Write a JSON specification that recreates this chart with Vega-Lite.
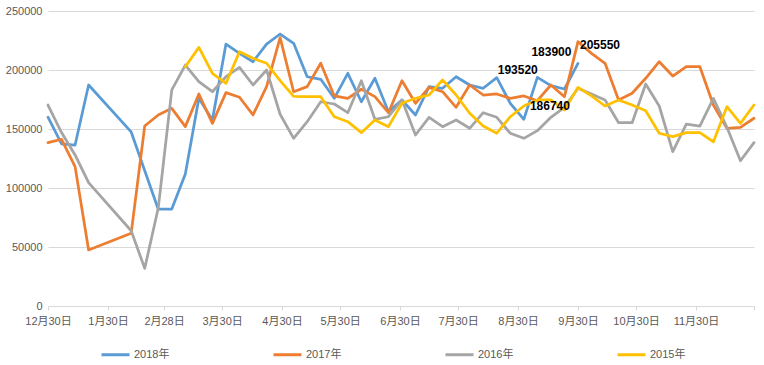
{
  "$schema": "https://vega.github.io/schema/vega-lite/v6.json",
  "width": 706,
  "height": 295,
  "autosize": {"type": "none"},
  "padding": {"left": 48, "top": 11, "right": 10, "bottom": 59},
  "background": "white",
  "config": {"view": {"stroke": null}, "font": "Liberation Sans, Noto Sans CJK SC"},
  "data": {"values": [
    {"d": "2017/12/30", "y": 160000, "s": "2018年"},
    {"d": "2018/01/06", "y": 137300, "s": "2018年"},
    {"d": "2018/01/13", "y": 136400, "s": "2018年"},
    {"d": "2018/01/20", "y": 187300, "s": "2018年"},
    {"d": "2018/02/11", "y": 147500, "s": "2018年"},
    {"d": "2018/02/25", "y": 82000, "s": "2018年"},
    {"d": "2018/03/04", "y": 82200, "s": "2018年"},
    {"d": "2018/03/11", "y": 111900, "s": "2018年"},
    {"d": "2018/03/18", "y": 176000, "s": "2018年"},
    {"d": "2018/03/25", "y": 157600, "s": "2018年"},
    {"d": "2018/04/01", "y": 222000, "s": "2018年"},
    {"d": "2018/04/08", "y": 214100, "s": "2018年"},
    {"d": "2018/04/15", "y": 207000, "s": "2018年"},
    {"d": "2018/04/22", "y": 222000, "s": "2018年"},
    {"d": "2018/04/29", "y": 230500, "s": "2018年"},
    {"d": "2018/05/06", "y": 222600, "s": "2018年"},
    {"d": "2018/05/13", "y": 194300, "s": "2018年"},
    {"d": "2018/05/20", "y": 192100, "s": "2018年"},
    {"d": "2018/05/27", "y": 176000, "s": "2018年"},
    {"d": "2018/06/03", "y": 197200, "s": "2018年"},
    {"d": "2018/06/10", "y": 173100, "s": "2018年"},
    {"d": "2018/06/17", "y": 193000, "s": "2018年"},
    {"d": "2018/06/24", "y": 164700, "s": "2018年"},
    {"d": "2018/07/01", "y": 174600, "s": "2018年"},
    {"d": "2018/07/08", "y": 161900, "s": "2018年"},
    {"d": "2018/07/15", "y": 185900, "s": "2018年"},
    {"d": "2018/07/22", "y": 184500, "s": "2018年"},
    {"d": "2018/07/29", "y": 194300, "s": "2018年"},
    {"d": "2018/08/05", "y": 187300, "s": "2018年"},
    {"d": "2018/08/12", "y": 184500, "s": "2018年"},
    {"d": "2018/08/19", "y": 193520, "s": "2018年", "label": "193520"},
    {"d": "2018/08/26", "y": 171800, "s": "2018年"},
    {"d": "2018/09/02", "y": 158200, "s": "2018年"},
    {"d": "2018/09/09", "y": 193800, "s": "2018年"},
    {"d": "2018/09/16", "y": 186740, "s": "2018年", "label": "186740"},
    {"d": "2018/09/23", "y": 183900, "s": "2018年", "label": "183900"},
    {"d": "2018/09/30", "y": 205550, "s": "2018年", "label": "205550"},

    {"d": "2017/12/30", "y": 138400, "s": "2017年"},
    {"d": "2018/01/06", "y": 141300, "s": "2017年"},
    {"d": "2018/01/13", "y": 118100, "s": "2017年"},
    {"d": "2018/01/20", "y": 47500, "s": "2017年"},
    {"d": "2018/02/11", "y": 61600, "s": "2017年"},
    {"d": "2018/02/18", "y": 152500, "s": "2017年"},
    {"d": "2018/02/25", "y": 161900, "s": "2017年"},
    {"d": "2018/03/04", "y": 167500, "s": "2017年"},
    {"d": "2018/03/11", "y": 152000, "s": "2017年"},
    {"d": "2018/03/18", "y": 179700, "s": "2017年"},
    {"d": "2018/03/25", "y": 154800, "s": "2017年"},
    {"d": "2018/04/01", "y": 180800, "s": "2017年"},
    {"d": "2018/04/08", "y": 176900, "s": "2017年"},
    {"d": "2018/04/15", "y": 161900, "s": "2017年"},
    {"d": "2018/04/22", "y": 185900, "s": "2017年"},
    {"d": "2018/04/29", "y": 227500, "s": "2017年"},
    {"d": "2018/05/06", "y": 181600, "s": "2017年"},
    {"d": "2018/05/13", "y": 185900, "s": "2017年"},
    {"d": "2018/05/20", "y": 205700, "s": "2017年"},
    {"d": "2018/05/27", "y": 178000, "s": "2017年"},
    {"d": "2018/06/03", "y": 176000, "s": "2017年"},
    {"d": "2018/06/10", "y": 183700, "s": "2017年"},
    {"d": "2018/06/17", "y": 177400, "s": "2017年"},
    {"d": "2018/06/24", "y": 163800, "s": "2017年"},
    {"d": "2018/07/01", "y": 190900, "s": "2017年"},
    {"d": "2018/07/08", "y": 171800, "s": "2017年"},
    {"d": "2018/07/15", "y": 185300, "s": "2017年"},
    {"d": "2018/07/22", "y": 181600, "s": "2017年"},
    {"d": "2018/07/29", "y": 168400, "s": "2017年"},
    {"d": "2018/08/05", "y": 187300, "s": "2017年"},
    {"d": "2018/08/12", "y": 178800, "s": "2017年"},
    {"d": "2018/08/19", "y": 179700, "s": "2017年"},
    {"d": "2018/08/26", "y": 176000, "s": "2017年"},
    {"d": "2018/09/02", "y": 178000, "s": "2017年"},
    {"d": "2018/09/09", "y": 174000, "s": "2017年"},
    {"d": "2018/09/16", "y": 187300, "s": "2017年"},
    {"d": "2018/09/23", "y": 177400, "s": "2017年"},
    {"d": "2018/09/30", "y": 224000, "s": "2017年"},
    {"d": "2018/10/07", "y": 214100, "s": "2017年"},
    {"d": "2018/10/14", "y": 205700, "s": "2017年"},
    {"d": "2018/10/21", "y": 174600, "s": "2017年"},
    {"d": "2018/10/28", "y": 180300, "s": "2017年"},
    {"d": "2018/11/04", "y": 193000, "s": "2017年"},
    {"d": "2018/11/11", "y": 207000, "s": "2017年"},
    {"d": "2018/11/18", "y": 194900, "s": "2017年"},
    {"d": "2018/11/25", "y": 202800, "s": "2017年"},
    {"d": "2018/12/02", "y": 202800, "s": "2017年"},
    {"d": "2018/12/09", "y": 170300, "s": "2017年"},
    {"d": "2018/12/16", "y": 150600, "s": "2017年"},
    {"d": "2018/12/23", "y": 151400, "s": "2017年"},
    {"d": "2018/12/30", "y": 159100, "s": "2017年"},

    {"d": "2017/12/30", "y": 170300, "s": "2016年"},
    {"d": "2018/01/06", "y": 147000, "s": "2016年"},
    {"d": "2018/01/13", "y": 128000, "s": "2016年"},
    {"d": "2018/01/20", "y": 104500, "s": "2016年"},
    {"d": "2018/02/11", "y": 63800, "s": "2016年"},
    {"d": "2018/02/18", "y": 31900, "s": "2016年"},
    {"d": "2018/02/25", "y": 83000, "s": "2016年"},
    {"d": "2018/03/04", "y": 183100, "s": "2016年"},
    {"d": "2018/03/11", "y": 204200, "s": "2016年"},
    {"d": "2018/03/18", "y": 190100, "s": "2016年"},
    {"d": "2018/03/25", "y": 181600, "s": "2016年"},
    {"d": "2018/04/01", "y": 194300, "s": "2016年"},
    {"d": "2018/04/08", "y": 202200, "s": "2016年"},
    {"d": "2018/04/15", "y": 187300, "s": "2016年"},
    {"d": "2018/04/22", "y": 200000, "s": "2016年"},
    {"d": "2018/04/29", "y": 162500, "s": "2016年"},
    {"d": "2018/05/06", "y": 142100, "s": "2016年"},
    {"d": "2018/05/13", "y": 156200, "s": "2016年"},
    {"d": "2018/05/20", "y": 173100, "s": "2016年"},
    {"d": "2018/05/27", "y": 171200, "s": "2016年"},
    {"d": "2018/06/03", "y": 163800, "s": "2016年"},
    {"d": "2018/06/10", "y": 190900, "s": "2016年"},
    {"d": "2018/06/17", "y": 158200, "s": "2016年"},
    {"d": "2018/06/24", "y": 160400, "s": "2016年"},
    {"d": "2018/07/01", "y": 174600, "s": "2016年"},
    {"d": "2018/07/08", "y": 144900, "s": "2016年"},
    {"d": "2018/07/15", "y": 159900, "s": "2016年"},
    {"d": "2018/07/22", "y": 152000, "s": "2016年"},
    {"d": "2018/07/29", "y": 157600, "s": "2016年"},
    {"d": "2018/08/05", "y": 150600, "s": "2016年"},
    {"d": "2018/08/12", "y": 163800, "s": "2016年"},
    {"d": "2018/08/19", "y": 159900, "s": "2016年"},
    {"d": "2018/08/26", "y": 146400, "s": "2016年"},
    {"d": "2018/09/02", "y": 142100, "s": "2016年"},
    {"d": "2018/09/09", "y": 148600, "s": "2016年"},
    {"d": "2018/09/16", "y": 159900, "s": "2016年"},
    {"d": "2018/09/23", "y": 168400, "s": "2016年"},
    {"d": "2018/09/30", "y": 184500, "s": "2016年"},
    {"d": "2018/10/07", "y": 179700, "s": "2016年"},
    {"d": "2018/10/14", "y": 174600, "s": "2016年"},
    {"d": "2018/10/21", "y": 155300, "s": "2016年"},
    {"d": "2018/10/28", "y": 155300, "s": "2016年"},
    {"d": "2018/11/04", "y": 188100, "s": "2016年"},
    {"d": "2018/11/11", "y": 169500, "s": "2016年"},
    {"d": "2018/11/18", "y": 130800, "s": "2016年"},
    {"d": "2018/11/25", "y": 154200, "s": "2016年"},
    {"d": "2018/12/02", "y": 152500, "s": "2016年"},
    {"d": "2018/12/09", "y": 176000, "s": "2016年"},
    {"d": "2018/12/16", "y": 151400, "s": "2016年"},
    {"d": "2018/12/23", "y": 123100, "s": "2016年"},
    {"d": "2018/12/30", "y": 138400, "s": "2016年"},

    {"d": "2018/03/11", "y": 202800, "s": "2015年"},
    {"d": "2018/03/18", "y": 219200, "s": "2015年"},
    {"d": "2018/03/25", "y": 197200, "s": "2015年"},
    {"d": "2018/04/01", "y": 188700, "s": "2015年"},
    {"d": "2018/04/08", "y": 215500, "s": "2015年"},
    {"d": "2018/04/15", "y": 209900, "s": "2015年"},
    {"d": "2018/04/22", "y": 205700, "s": "2015年"},
    {"d": "2018/04/29", "y": 191000, "s": "2015年"},
    {"d": "2018/05/06", "y": 177700, "s": "2015年"},
    {"d": "2018/05/13", "y": 177400, "s": "2015年"},
    {"d": "2018/05/20", "y": 177400, "s": "2015年"},
    {"d": "2018/05/27", "y": 160400, "s": "2015年"},
    {"d": "2018/06/03", "y": 156200, "s": "2015年"},
    {"d": "2018/06/10", "y": 146900, "s": "2015年"},
    {"d": "2018/06/17", "y": 157600, "s": "2015年"},
    {"d": "2018/06/24", "y": 152000, "s": "2015年"},
    {"d": "2018/07/01", "y": 171800, "s": "2015年"},
    {"d": "2018/07/08", "y": 176000, "s": "2015年"},
    {"d": "2018/07/15", "y": 178800, "s": "2015年"},
    {"d": "2018/07/22", "y": 191500, "s": "2015年"},
    {"d": "2018/07/29", "y": 178800, "s": "2015年"},
    {"d": "2018/08/05", "y": 163300, "s": "2015年"},
    {"d": "2018/08/12", "y": 152500, "s": "2015年"},
    {"d": "2018/08/19", "y": 146400, "s": "2015年"},
    {"d": "2018/08/26", "y": 160400, "s": "2015年"},
    {"d": "2018/09/02", "y": 169500, "s": "2015年"},
    {"d": "2018/09/09", "y": 174600, "s": "2015年"},
    {"d": "2018/09/16", "y": 174600, "s": "2015年"},
    {"d": "2018/09/23", "y": 166100, "s": "2015年"},
    {"d": "2018/09/30", "y": 185300, "s": "2015年"},
    {"d": "2018/10/07", "y": 178000, "s": "2015年"},
    {"d": "2018/10/14", "y": 169500, "s": "2015年"},
    {"d": "2018/10/21", "y": 174600, "s": "2015年"},
    {"d": "2018/10/28", "y": 170300, "s": "2015年"},
    {"d": "2018/11/04", "y": 165500, "s": "2015年"},
    {"d": "2018/11/11", "y": 146400, "s": "2015年"},
    {"d": "2018/11/18", "y": 143500, "s": "2015年"},
    {"d": "2018/11/25", "y": 146900, "s": "2015年"},
    {"d": "2018/12/02", "y": 146900, "s": "2015年"},
    {"d": "2018/12/09", "y": 139200, "s": "2015年"},
    {"d": "2018/12/16", "y": 168900, "s": "2015年"},
    {"d": "2018/12/23", "y": 154800, "s": "2015年"},
    {"d": "2018/12/30", "y": 170300, "s": "2015年"}
  ]},
  "encoding": {
    "x": {
      "field": "d", "type": "temporal",
      "scale": {"domain": [{"year": 2017, "month": 12, "date": 30}, {"year": 2018, "month": 12, "date": 30}]},
      "axis": {
        "title": null,
        "values": [
          {"year": 2017, "month": 12, "date": 30},
          {"year": 2018, "month": 1, "date": 30},
          {"year": 2018, "month": 2, "date": 28},
          {"year": 2018, "month": 3, "date": 30},
          {"year": 2018, "month": 4, "date": 30},
          {"year": 2018, "month": 5, "date": 30},
          {"year": 2018, "month": 6, "date": 30},
          {"year": 2018, "month": 7, "date": 30},
          {"year": 2018, "month": 8, "date": 30},
          {"year": 2018, "month": 9, "date": 30},
          {"year": 2018, "month": 10, "date": 30},
          {"year": 2018, "month": 11, "date": 30},
          {"year": 2018, "month": 12, "date": 30}
        ],
        "format": "%-m月%-d日",
        "labelExpr": "year(datum.value) == 2018 && month(datum.value) == 11 ? '' : datum.label",
        "grid": false,
        "domainColor": "#d9d9d9",
        "tickColor": "#d9d9d9",
        "tickSize": 4,
        "labelPadding": 5,
        "labelFontSize": 11,
        "labelColor": "#595959",
        "labelOverlap": false,
        "labelFlush": false,
        "labelBound": false
      }
    },
    "y": {
      "field": "y", "type": "quantitative",
      "scale": {"domain": [0, 250000], "nice": false},
      "axis": {
        "title": null,
        "values": [0, 50000, 100000, 150000, 200000, 250000],
        "format": "d",
        "domain": false,
        "ticks": false,
        "tickSize": 0,
        "labelPadding": 6,
        "gridColor": "#d9d9d9",
        "labelFontSize": 11,
        "labelColor": "#595959"
      }
    }
  },
  "layer": [
    {
      "mark": {"type": "line", "strokeWidth": 2.75, "strokeJoin": "round", "strokeCap": "round"},
      "encoding": {
        "color": {
          "field": "s", "type": "nominal",
          "scale": {"domain": ["2018年", "2017年", "2016年", "2015年"], "range": ["#5b9bd5", "#ed7d31", "#a5a5a5", "#ffc000"]},
          "legend": {
            "title": null, "orient": "none", "legendX": 52, "legendY": 328,
            "direction": "horizontal", "columns": 4, "padding": 0,
            "symbolType": "stroke", "symbolSize": 784, "symbolStrokeWidth": 3,
            "labelFontSize": 11, "labelColor": "#595959", "labelOffset": 3,
            "columnPadding": 97
          }
        }
      }
    },
    {
      "transform": [{"filter": "datum.label == '193520'"}],
      "mark": {"type": "text", "fontWeight": "bold", "fontSize": 12, "color": "black", "align": "center", "baseline": "middle", "dx": 21, "dy": -8},
      "encoding": {"text": {"field": "label"}}
    },
    {
      "transform": [{"filter": "datum.label == '186740'"}],
      "mark": {"type": "text", "fontWeight": "bold", "fontSize": 12, "color": "black", "align": "center", "baseline": "middle", "dx": -1, "dy": 20},
      "encoding": {"text": {"field": "label"}}
    },
    {
      "transform": [{"filter": "datum.label == '183900'"}],
      "mark": {"type": "text", "fontWeight": "bold", "fontSize": 12, "color": "black", "align": "center", "baseline": "middle", "dx": -13, "dy": -37},
      "encoding": {"text": {"field": "label"}}
    },
    {
      "transform": [{"filter": "datum.label == '205550'"}],
      "mark": {"type": "text", "fontWeight": "bold", "fontSize": 12, "color": "black", "align": "center", "baseline": "middle", "dx": 22, "dy": -18},
      "encoding": {"text": {"field": "label"}}
    }
  ]
}
